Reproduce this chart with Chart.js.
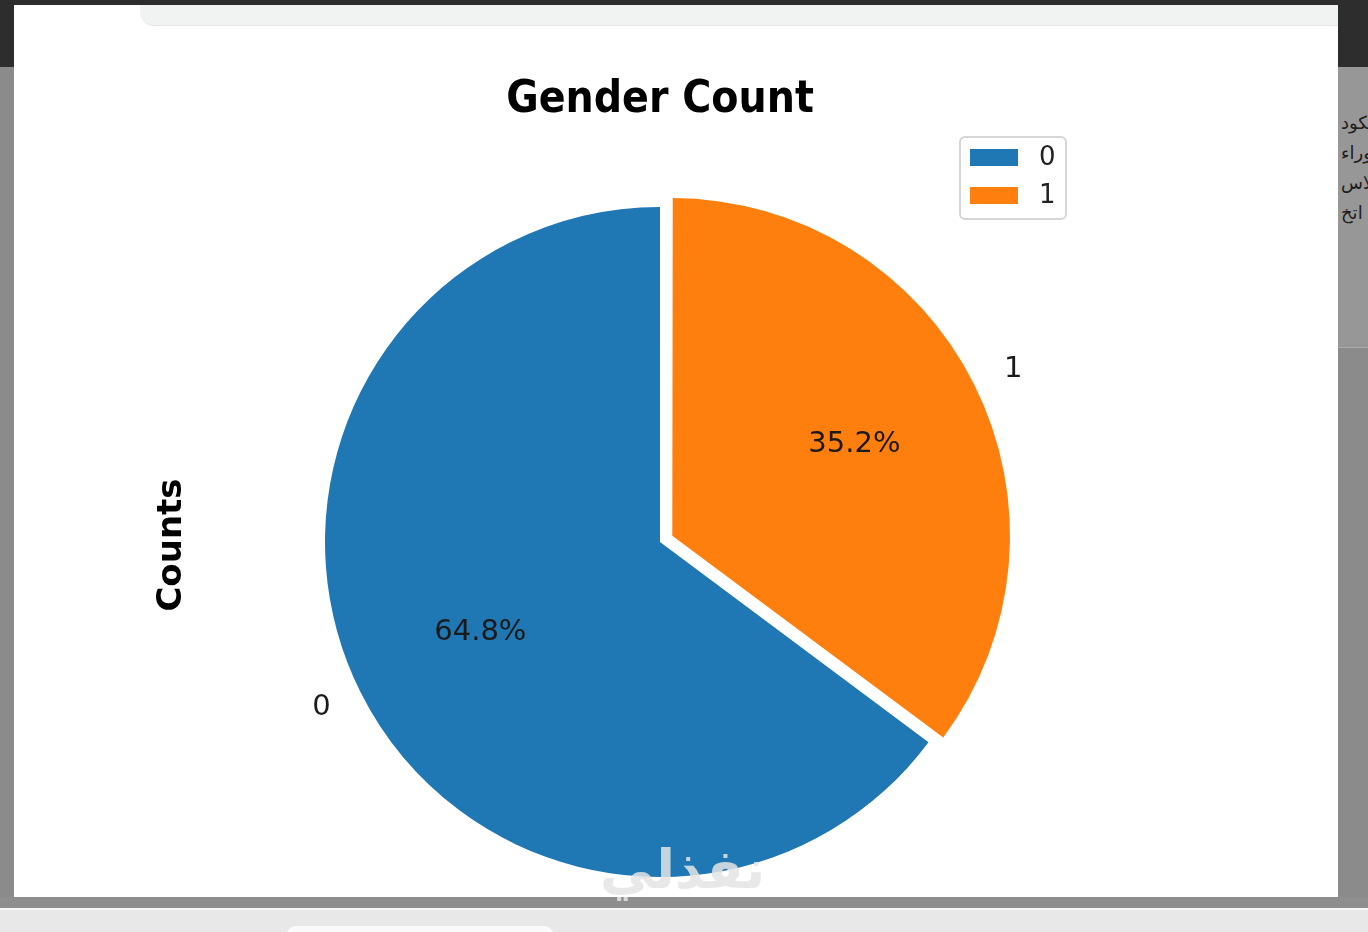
<!DOCTYPE html>
<html>
<head>
<meta charset="utf-8">
<script src="https://cdn.jsdelivr.net/npm/chart.js@4.4.0/dist/chart.umd.min.js"></script>
<style>
  body { margin: 0; width: 1368px; height: 932px; overflow: hidden; background: #8b8b8b; position: relative; font-family: 'DejaVu Sans', sans-serif; }
  .topbar { position: absolute; left: 0; top: 0; width: 1368px; height: 67px; background: #2d2d2d; }
  .side { position: absolute; left: 1338px; top: 67px; width: 30px; height: 280px; background: #979797; border-bottom: 1px solid #a9a9a9; }
  .arabic { position: absolute; left: 1341px; top: 108px; font-size: 18px; line-height: 30px; color: #1d1d1d; white-space: nowrap; direction: ltr; }
  .panel { position: absolute; left: 14px; top: 5px; width: 1324px; height: 892px; background: #ffffff; }
  .searchbar { position: absolute; left: 126px; top: 0; width: 1198px; height: 20px; background: #f1f3f3; border-bottom: 1px solid #e3e6e6; border-bottom-left-radius: 14px; }
  .strip { position: absolute; left: 0; top: 897px; width: 1368px; height: 11px; background: #8e8e8e; }
  .taskbar { position: absolute; left: 0; top: 908px; width: 1368px; height: 24px; background: #e8e8e8; border-top: 2px solid #f7f7f7; }
  .search { position: absolute; left: 286px; top: 16px; width: 268px; height: 20px; background: #fafafa; border-radius: 10px; }
  .mark { position: absolute; left: 600px; top: 838px; font-size: 54px; font-weight: bold; color: rgba(228,228,228,0.85); font-family: 'DejaVu Sans', sans-serif; }
  canvas { position: absolute; left: 0; top: 0; }
</style>
</head>
<body>
<div class="topbar"></div>
<div class="side"></div>
<div class="arabic">لكود<br>وراء<br>والاس<br>ل اتخ</div>
<div class="panel"><div class="searchbar"></div></div>
<div class="strip"></div>
<div class="taskbar"><div class="search"></div></div>
<canvas id="pie" width="1368" height="932"></canvas>
<div class="mark">نفذلي</div>
<script>
const categories = ['0', '1'];
const shares = [64.8, 35.2];
const sliceColors = ['#1f77b4', '#ff7f0e'];
const explode = [0, 55];
const chartTitle = 'Gender Count';
const yLabel = 'Counts';

// orange slice starts at 12 o'clock and runs clockwise
const startDeg = shares[1] / (shares[0] + shares[1]) * 360;

const pieText = {
  id: 'pieText',
  afterDatasetsDraw(chart) {
    const ctx = chart.ctx;
    const arcs = chart.getDatasetMeta(0).data;
    const total = shares.reduce((a, b) => a + b, 0);
    ctx.save();
    arcs.forEach((arc, i) => {
      const mid = (arc.startAngle + arc.endAngle) / 2;
      const circ = arc.endAngle - arc.startAngle;
      // same shift Chart.js uses when it draws an offset arc
      const off = (explode[i] / 4) * (1 + (1 - Math.sin(Math.min(Math.PI, circ))));
      const cx = arc.x + Math.cos(mid) * off;
      const cy = arc.y + Math.sin(mid) * off;
      const r = arc.outerRadius;
      ctx.fillStyle = '#1a1a1a';
      ctx.font = '29px "DejaVu Sans"';
      ctx.textBaseline = 'middle';
      ctx.textAlign = 'center';
      ctx.fillText((shares[i] / total * 100).toFixed(1) + '%', cx + Math.cos(mid) * r * 0.6, cy + Math.sin(mid) * r * 0.6);
      const lx = cx + Math.cos(mid) * r * 1.1;
      const ly = cy + Math.sin(mid) * r * 1.1;
      ctx.textAlign = Math.cos(mid) > 0 ? 'left' : 'right';
      ctx.fillText(categories[i], lx, ly);
    });

    // title (a bit condensed like the screenshot)
    ctx.fillStyle = '#000';
    ctx.font = 'bold 44px "DejaVu Sans"';
    ctx.textAlign = 'center';
    ctx.textBaseline = 'alphabetic';
    ctx.translate(660, 112);
    ctx.scale(0.9, 1);
    ctx.fillText(chartTitle, 0, 0);
    ctx.setTransform(1, 0, 0, 1, 0, 0);

    // y label
    ctx.translate(172, 545);
    ctx.rotate(-Math.PI / 2);
    ctx.font = 'bold 34px "DejaVu Sans"';
    ctx.textBaseline = 'middle';
    ctx.fillText(yLabel, 0, 0);
    ctx.setTransform(1, 0, 0, 1, 0, 0);

    // legend
    ctx.fillStyle = '#fff';
    ctx.strokeStyle = '#d6d6d6';
    ctx.lineWidth = 2;
    ctx.beginPath();
    ctx.roundRect(960, 137, 106, 82, 5);
    ctx.fill();
    ctx.stroke();
    categories.forEach((c, i) => {
      const y = 149 + i * 38;
      ctx.fillStyle = sliceColors[i];
      ctx.fillRect(970, y, 48, 17);
      ctx.fillStyle = '#222';
      ctx.font = '26px "DejaVu Sans"';
      ctx.textAlign = 'left';
      ctx.textBaseline = 'middle';
      ctx.fillText(c, 1039, y + 9);
    });
    ctx.restore();
  }
};

new Chart(document.getElementById('pie'), {
  type: 'pie',
  data: {
    labels: categories,
    datasets: [{
      data: shares,
      backgroundColor: sliceColors,
      borderWidth: 0,
      offset: explode
    }]
  },
  options: {
    responsive: false,
    animation: false,
    rotation: startDeg,
    layout: { padding: { left: 297.5, right: 345.5, top: 179.5, bottom: 27.5 } },
    plugins: {
      legend: { display: false },
      title: { display: false },
      tooltip: { enabled: false }
    }
  },
  plugins: [pieText]
});
</script>
</body>
</html>
